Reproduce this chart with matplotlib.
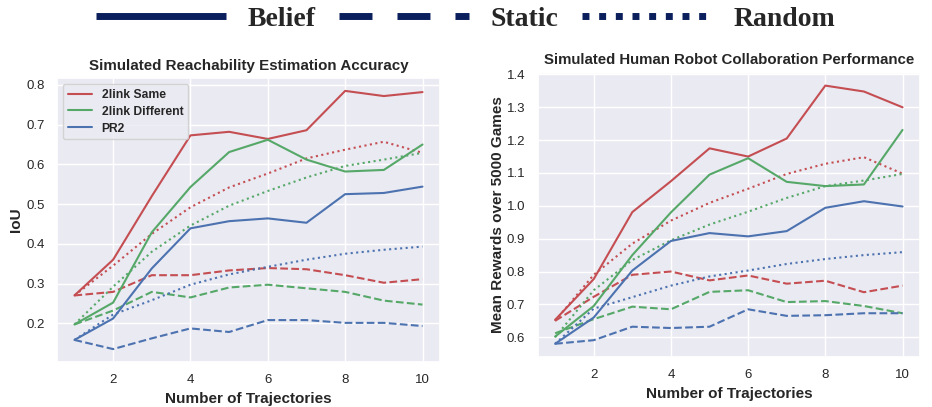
import numpy as np
import matplotlib
matplotlib.use("Agg")
import matplotlib.pyplot as plt
import seaborn as sns
from matplotlib.lines import Line2D

sns.set(style="darkgrid", color_codes=True)
plt.rcParams['font.family'] = ['Liberation Sans', 'DejaVu Sans']

# данные
n_traj = [1, 2, 3, 4, 5, 6, 7, 8, 9, 10]
series = ["2link Same", "2link Different", "PR2"]
colors = ["r", "g", "b"]

# IoU (левый график)
iou_belief = [
    [0.27, 0.36, 0.52, 0.673, 0.682, 0.664, 0.686, 0.785, 0.772, 0.782],
    [0.197, 0.252, 0.429, 0.543, 0.631, 0.662, 0.612, 0.582, 0.586, 0.650],
    [0.158, 0.212, 0.338, 0.439, 0.457, 0.464, 0.453, 0.525, 0.528, 0.544],
]
iou_static = [
    [0.27, 0.279, 0.321, 0.321, 0.333, 0.339, 0.336, 0.321, 0.302, 0.311],
    [0.197, 0.232, 0.279, 0.265, 0.290, 0.297, 0.288, 0.279, 0.257, 0.247],
    [0.158, 0.135, 0.162, 0.187, 0.178, 0.208, 0.208, 0.201, 0.201, 0.193],
]
iou_random = [
    [0.27, 0.345, 0.425, 0.492, 0.542, 0.577, 0.615, 0.637, 0.657, 0.629],
    [0.197, 0.292, 0.38, 0.446, 0.496, 0.533, 0.567, 0.596, 0.612, 0.629],
    [0.158, 0.222, 0.258, 0.297, 0.323, 0.342, 0.360, 0.375, 0.385, 0.393],
]

# награды (правый график)
rew_belief = [
    [0.653, 0.777, 0.981, 1.075, 1.175, 1.150, 1.205, 1.366, 1.348, 1.300],
    [0.602, 0.695, 0.850, 0.980, 1.095, 1.145, 1.073, 1.060, 1.065, 1.231],
    [0.580, 0.660, 0.803, 0.893, 0.917, 0.907, 0.923, 0.994, 1.014, 0.998],
]
rew_static = [
    [0.650, 0.723, 0.790, 0.800, 0.773, 0.788, 0.763, 0.772, 0.737, 0.757],
    [0.612, 0.655, 0.693, 0.685, 0.738, 0.743, 0.707, 0.710, 0.695, 0.673],
    [0.580, 0.591, 0.632, 0.628, 0.632, 0.685, 0.665, 0.667, 0.673, 0.673],
]
rew_random = [
    [0.650, 0.790, 0.885, 0.955, 1.009, 1.052, 1.097, 1.128, 1.148, 1.098],
    [0.600, 0.743, 0.835, 0.895, 0.943, 0.982, 1.024, 1.060, 1.077, 1.097],
    [0.580, 0.687, 0.722, 0.757, 0.785, 0.803, 0.823, 0.838, 0.850, 0.859],
]

fig = plt.figure(figsize=(9.32, 4.07), dpi=100)
ax1 = fig.add_axes([0.0612, 0.1106, 0.4108, 0.6978])
ax2 = fig.add_axes([0.577, 0.1236, 0.410, 0.6978])

for ax, bel, sta, rnd in [(ax1, iou_belief, iou_static, iou_random),
                          (ax2, rew_belief, rew_static, rew_random)]:
    for i in range(3):
        ax.plot(n_traj, bel[i], color=colors[i], lw=1.5, label=series[i])
        ax.plot(n_traj, sta[i], color=colors[i], lw=1.5, ls="--")
        ax.plot(n_traj, rnd[i], color=colors[i], lw=1.5, ls=":")
    ax.set_xlabel("Number of Trajectories", fontsize=11, fontweight="bold")
    ax.tick_params(labelsize=9.5, pad=3)
    ax.set_xticks([2, 4, 6, 8, 10])

ax1.set_title("Simulated Reachability Estimation Accuracy", fontsize=10.9, fontweight="bold")
ax1.set_ylabel("IoU", fontsize=11, fontweight="bold", labelpad=2)
ax1.set_yticks([0.2, 0.3, 0.4, 0.5, 0.6, 0.7, 0.8])
ax1.legend(loc="upper left", prop={"weight": "bold", "size": 8.7}, labelspacing=0.4)

ax2.set_title("Simulated Human Robot Collaboration Performance", fontsize=10.8, fontweight="bold")
ax2.set_ylabel("Mean Rewards over 5000 Games", fontsize=11, fontweight="bold", labelpad=1)

# общая легенда сверху
navy = "#0b1f5c"
handles = [
    Line2D([], [], color=navy, lw=5, solid_capstyle="butt"),
    Line2D([], [], color=navy, lw=5, dashes=(4.75, 3.6), dash_capstyle="butt"),
    Line2D([], [], color=navy, lw=5, dashes=(1.0, 1.4), dash_capstyle="butt"),
]
fig.legend(handles, ["Belief", "Static", "Random"], loc="upper center",
           bbox_to_anchor=(0.5, 1.045), ncol=3, frameon=False,
           handlelength=4.65, handletextpad=0.8, columnspacing=0.85,
           prop={"family": "Liberation Serif", "weight": "bold", "size": 20})

plt.savefig("out.png", dpi=100)
